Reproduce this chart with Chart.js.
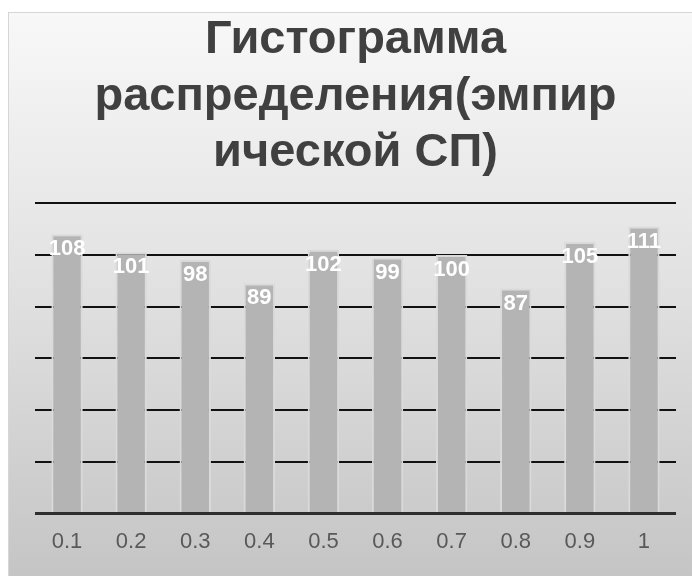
<!DOCTYPE html>
<html lang="ru">
<head>
<meta charset="utf-8">
<title>Гистограмма распределения</title>
<script src="https://cdn.jsdelivr.net/npm/chart.js@4/dist/chart.umd.min.js"></script>
<style>
  html, body { margin: 0; padding: 0; background: #ffffff; }
  #wrap { position: relative; width: 692px; height: 576px; }
</style>
</head>
<body>
<div id="wrap"><canvas id="chart" width="692" height="576"></canvas></div>
<script>
// Interval upper bounds and observed frequencies of the empirical sample
const categories = ['0.1', '0.2', '0.3', '0.4', '0.5', '0.6', '0.7', '0.8', '0.9', '1'];
const frequencies = [108, 101, 98, 89, 102, 99, 100, 87, 105, 111];
const titleLines = ['Гистограмма', 'распределения(эмпир', 'ической СП)'];
const yMax = 120;
const yStep = 20;

// Framed panel with a soft vertical gray gradient behind the chart
const panelBackground = {
  id: 'panelBackground',
  beforeDraw(chart) {
    const ctx = chart.ctx;
    const w = chart.width, h = chart.height;
    ctx.save();
    ctx.fillStyle = '#ffffff';
    ctx.fillRect(0, 0, w, h);
    const g = ctx.createLinearGradient(0, 12, 0, h);
    g.addColorStop(0, '#f8f8f8');
    g.addColorStop(0.45, '#e3e3e3');
    g.addColorStop(1, '#c5c5c5');
    ctx.fillStyle = g;
    ctx.fillRect(8, 12, w - 8, h - 12);
    ctx.strokeStyle = '#d6d6d6';
    ctx.lineWidth = 1;
    ctx.strokeRect(8.5, 12.5, w - 8, h - 12);
    ctx.restore();
  }
};

// Value labels drawn just inside the top of each bar
const barValueLabels = {
  id: 'barValueLabels',
  afterDatasetsDraw(chart) {
    const ctx = chart.ctx;
    const meta = chart.getDatasetMeta(0);
    const data = chart.data.datasets[0].data;
    ctx.save();
    ctx.font = 'bold 22px "Liberation Sans", Arial, sans-serif';
    ctx.fillStyle = '#ffffff';
    ctx.textAlign = 'center';
    ctx.textBaseline = 'middle';
    meta.data.forEach((bar, i) => {
      ctx.fillText(String(data[i]), bar.x, bar.y + 15);
    });
    ctx.restore();
  }
};

new Chart(document.getElementById('chart'), {
  type: 'bar',
  data: {
    labels: categories,
    datasets: [{
      data: frequencies,
      backgroundColor: '#b4b4b4',
      borderColor: '#dadada',
      borderWidth: 2,
      borderSkipped: 'bottom',
      categoryPercentage: 1,
      barPercentage: 0.49
    }]
  },
  options: {
    responsive: false,
    animation: false,
    layout: { padding: { left: 35, right: 16, top: 12, bottom: 14 } },
    plugins: {
      legend: { display: false },
      tooltip: { enabled: false },
      title: {
        display: true,
        text: titleLines,
        color: '#404040',
        font: { family: '"Liberation Sans", Arial, sans-serif', size: 47, weight: 'bold', lineHeight: 1.2 },
        padding: { top: 0, bottom: 22 }
      }
    },
    scales: {
      x: {
        grid: { display: false },
        border: { display: false },
        ticks: {
          color: '#595959',
          padding: 7,
          font: { family: '"Liberation Sans", Arial, sans-serif', size: 22 }
        }
      },
      y: {
        min: 0,
        max: yMax,
        ticks: { display: false, stepSize: yStep },
        border: { display: false },
        grid: {
          drawTicks: false,
          color: (c) => (c.tick && c.tick.value === 0 ? '#2e2e2e' : '#111111'),
          lineWidth: (c) => (c.tick && c.tick.value === 0 ? 3 : 2)
        }
      }
    }
  },
  plugins: [panelBackground, barValueLabels]
});
</script>
</body>
</html>
